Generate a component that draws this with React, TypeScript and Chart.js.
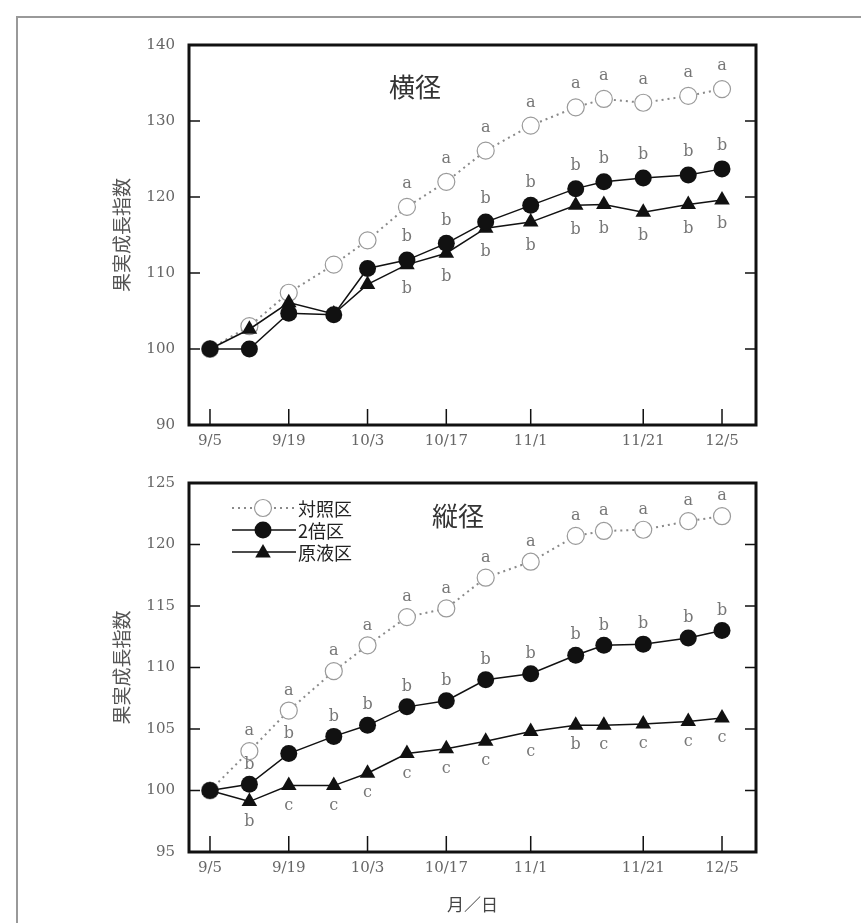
import React, { useEffect, useRef } from 'react';
import { Chart, registerables } from 'chart.js';

Chart.register(...registerables);

// ---- data ----
const sampleDates = ['9/5', '9/12', '9/19', '9/27', '10/3', '10/10', '10/17', '10/24', '11/1', '11/9', '11/14', '11/21', '11/29', '12/5'];
const tickDates = ['9/5', '9/19', '10/3', '10/17', '11/1', '11/21', '12/5'];
const seriesNames = ['対照区', '2倍区', '原液区'];
const yTitle = '果実成長指数';
const xTitle = '月／日';
const topPanelTitle = '横径';
const bottomPanelTitle = '縦径';

// 横径 (transverse diameter)
const widthControl = [100, 103.0, 107.4, 111.1, 114.3, 118.7, 122.0, 126.1, 129.4, 131.8, 132.9, 132.4, 133.3, 134.2];
const widthDouble = [100, 100.0, 104.7, 104.5, 110.6, 111.7, 113.9, 116.7, 118.9, 121.1, 122.0, 122.5, 122.9, 123.7];
const widthStock = [100, 102.6, 106.1, 104.6, 108.5, 111.1, 112.6, 115.9, 116.7, 118.9, 119.0, 118.0, 119.0, 119.6];
const widthControlMarks = ['', '', '', '', '', 'a', 'a', 'a', 'a', 'a', 'a', 'a', 'a', 'a'];
const widthDoubleMarks = ['', '', '', '', '', 'b', 'b', 'b', 'b', 'b', 'b', 'b', 'b', 'b'];
const widthStockMarks = ['', '', '', '', '', 'b', 'b', 'b', 'b', 'b', 'b', 'b', 'b', 'b'];

// 縦径 (longitudinal diameter)
const lengthControl = [100, 103.2, 106.5, 109.7, 111.8, 114.1, 114.8, 117.3, 118.6, 120.7, 121.1, 121.2, 121.9, 122.3];
const lengthDouble = [100, 100.5, 103.0, 104.4, 105.3, 106.8, 107.3, 109.0, 109.5, 111.0, 111.8, 111.9, 112.4, 113.0];
const lengthStock = [100, 99.1, 100.4, 100.4, 101.4, 103.0, 103.4, 104.0, 104.8, 105.3, 105.3, 105.4, 105.6, 105.9];
const lengthControlMarks = ['', 'a', 'a', 'a', 'a', 'a', 'a', 'a', 'a', 'a', 'a', 'a', 'a', 'a'];
const lengthDoubleMarks = ['', 'b', 'b', 'b', 'b', 'b', 'b', 'b', 'b', 'b', 'b', 'b', 'b', 'b'];
const lengthStockMarks = ['', 'b', 'c', 'c', 'c', 'c', 'c', 'c', 'c', 'b', 'c', 'c', 'c', 'c'];

const dayOf = (s: string) => {
  const [m, d] = s.split('/').map(Number);
  return Math.round((Date.UTC(2000, m - 1, d) - Date.UTC(2000, 8, 5)) / 864e5);
};

const SERIF = '"DejaVu Serif", "Liberation Serif", serif';
const CJK = '"Noto Sans CJK JP", "Noto Sans CJK SC", sans-serif';

type Spec = {
  control: number[]; double: number[]; stock: number[];
  controlMarks: string[]; doubleMarks: string[]; stockMarks: string[];
  yMin: number; yMax: number; yStep: number;
  padTop: number; xHeight: number; showXTitle: boolean;
  panelTitle: string; panelTitlePos: [number, number];
  legend: boolean; markDy: [number, number, number];
};

function triangle(ctx: CanvasRenderingContext2D, x: number, y: number, r: number) {
  let rad = 0;
  ctx.beginPath();
  for (let k = 0; k < 3; k++) {
    const px = x + Math.sin(rad) * r;
    const py = y - Math.cos(rad) * r;
    if (k === 0) ctx.moveTo(px, py); else ctx.lineTo(px, py);
    rad += (2 * Math.PI) / 3;
  }
  ctx.closePath();
  ctx.fill();
}

function makeChart(canvas: HTMLCanvasElement, spec: Spec) {
  const xs = sampleDates.map(dayOf);
  const tickDays = tickDates.map(dayOf);
  const pts = (vals: number[]) => xs.map((x, i) => ({ x, y: vals[i] }));

  const decor = {
    id: 'decor',
    afterDatasetsDraw(chart: any) {
      const { ctx, scales: { x, y } } = chart;
      ctx.save();
      ctx.font = `16px ${SERIF}`;
      ctx.fillStyle = '#777';
      ctx.textAlign = 'center';
      ctx.textBaseline = 'middle';
      const groups: [number[], string[], number][] = [
        [spec.control, spec.controlMarks, spec.markDy[0]],
        [spec.double, spec.doubleMarks, spec.markDy[1]],
        [spec.stock, spec.stockMarks, spec.markDy[2]],
      ];
      groups.forEach(([vals, marks, dy]) => {
        marks.forEach((m, i) => {
          if (!m) return;
          ctx.fillText(m, x.getPixelForValue(xs[i]), y.getPixelForValue(vals[i]) + dy);
        });
      });
      // panel title
      ctx.font = `26px ${CJK}`;
      ctx.fillStyle = '#333';
      ctx.fillText(spec.panelTitle, spec.panelTitlePos[0], spec.panelTitlePos[1]);
      // legend
      if (spec.legend) {
        const rows = [48, 70, 92];
        const x0 = 232, x1 = 296, xm = 263;
        ctx.font = `18px ${CJK}`;
        ctx.textAlign = 'left';
        rows.forEach((ry, k) => {
          ctx.save();
          ctx.beginPath();
          if (k === 0) {
            ctx.strokeStyle = '#8a8a8a';
            ctx.lineWidth = 2;
            ctx.setLineDash([2, 4]);
          } else {
            ctx.strokeStyle = '#111';
            ctx.lineWidth = 1.5;
          }
          ctx.moveTo(x0, ry);
          ctx.lineTo(x1, ry);
          ctx.stroke();
          ctx.restore();
          if (k === 0) {
            ctx.beginPath();
            ctx.arc(xm, ry, 8.5, 0, Math.PI * 2);
            ctx.fillStyle = '#fff';
            ctx.fill();
            ctx.strokeStyle = '#9a9a9a';
            ctx.lineWidth = 1.2;
            ctx.stroke();
          } else if (k === 1) {
            ctx.beginPath();
            ctx.arc(xm, ry, 8.5, 0, Math.PI * 2);
            ctx.fillStyle = '#111';
            ctx.fill();
          } else {
            ctx.fillStyle = '#111';
            triangle(ctx, xm, ry + 1, 9);
          }
          ctx.fillStyle = '#222';
          ctx.fillText(seriesNames[k], x1 + 2, ry + 1);
        });
      }
      ctx.restore();
    },
    afterDraw(chart: any) {
      const { ctx, chartArea: a, scales: { x, y } } = chart;
      ctx.save();
      ctx.strokeStyle = '#111';
      ctx.lineWidth = 1.5;
      ctx.beginPath();
      tickDays.forEach((d) => {
        const px = x.getPixelForValue(d);
        ctx.moveTo(px, a.bottom);
        ctx.lineTo(px, a.bottom - 16);
      });
      for (let v = spec.yMin + spec.yStep; v < spec.yMax; v += spec.yStep) {
        const py = y.getPixelForValue(v);
        ctx.moveTo(a.left, py);
        ctx.lineTo(a.left + 11, py);
        ctx.moveTo(a.right, py);
        ctx.lineTo(a.right - 11, py);
      }
      ctx.stroke();
      ctx.lineWidth = 3;
      ctx.strokeRect(a.left, a.top, a.right - a.left, a.bottom - a.top);
      ctx.restore();
    },
  };

  return new Chart(canvas, {
    type: 'line',
    data: {
      datasets: [
        {
          label: seriesNames[1], data: pts(spec.double), order: 0,
          borderColor: '#111', backgroundColor: '#111', borderWidth: 1.5,
          pointStyle: 'circle', pointRadius: 8.5, pointBorderWidth: 0,
          pointBackgroundColor: '#111', tension: 0,
        },
        {
          label: seriesNames[2], data: pts(spec.stock), order: 1,
          borderColor: '#111', backgroundColor: '#111', borderWidth: 1.5,
          pointStyle: 'triangle', pointRadius: 9, pointBorderWidth: 0,
          pointBackgroundColor: '#111', tension: 0,
        },
        {
          label: seriesNames[0], data: pts(spec.control), order: 2,
          borderColor: '#8a8a8a', borderWidth: 2, borderDash: [2, 4],
          pointStyle: 'circle', pointRadius: 8.5, pointBorderWidth: 1.2,
          pointBorderColor: '#9a9a9a', pointBackgroundColor: '#fff', tension: 0,
        },
      ] as any,
    },
    options: {
      animation: false,
      responsive: false,
      maintainAspectRatio: false,
      events: [],
      layout: { padding: { left: 110, right: 105, top: spec.padTop, bottom: 0 } },
      plugins: { legend: { display: false }, tooltip: { enabled: false } },
      scales: {
        x: {
          type: 'linear',
          min: -3.73,
          max: 97.04,
          afterBuildTicks: (s: any) => { s.ticks = tickDays.map((v) => ({ value: v })); },
          afterFit: (s: any) => { s.height = spec.xHeight; },
          grid: { display: false, drawTicks: false },
          border: { display: false },
          ticks: {
            autoSkip: false, maxRotation: 0, minRotation: 0, padding: 7,
            color: '#666', font: { family: SERIF, size: 15 },
            callback: (v: any) => { const i = tickDays.indexOf(Number(v)); return i >= 0 ? tickDates[i] : ''; },
          },
          title: {
            display: spec.showXTitle, text: xTitle, color: '#444',
            font: { family: CJK, size: 17 }, padding: { top: 0, bottom: 8 },
          },
        },
        y: {
          min: spec.yMin,
          max: spec.yMax,
          afterFit: (s: any) => { s.width = 79; },
          grid: { display: false, drawTicks: false },
          border: { display: false },
          ticks: { stepSize: spec.yStep, padding: 14, color: '#666', font: { family: SERIF, size: 15 } },
          title: {
            display: true, text: yTitle, color: '#555',
            font: { family: CJK, size: 19 }, padding: 0,
          },
        },
      },
    } as any,
    plugins: [decor],
  });
}

const topSpec: Spec = {
  control: widthControl, double: widthDouble, stock: widthStock,
  controlMarks: widthControlMarks, doubleMarks: widthDoubleMarks, stockMarks: widthStockMarks,
  yMin: 90, yMax: 140, yStep: 10,
  padTop: 25, xHeight: 35, showXTitle: false,
  panelTitle: topPanelTitle, panelTitlePos: [415, 67],
  legend: false, markDy: [-23, -23, 24],
};

const bottomSpec: Spec = {
  control: lengthControl, double: lengthDouble, stock: lengthStock,
  controlMarks: lengthControlMarks, doubleMarks: lengthDoubleMarks, stockMarks: lengthStockMarks,
  yMin: 95, yMax: 125, yStep: 5,
  padTop: 10, xHeight: 71, showXTitle: true,
  panelTitle: bottomPanelTitle, panelTitlePos: [458, 56],
  legend: true, markDy: [-20, -20, 20],
};

function Panel({ spec, top, height }: { spec: Spec; top: number; height: number }) {
  const ref = useRef<HTMLCanvasElement | null>(null);
  useEffect(() => {
    if (!ref.current) return;
    const c = makeChart(ref.current, spec);
    return () => c.destroy();
  }, [spec]);
  return (
    <canvas
      ref={ref}
      width={861}
      height={height}
      style={{ position: 'absolute', left: 0, top, width: 861, height, display: 'block' }}
    />
  );
}

export default function App() {
  return (
    <div style={{ position: 'absolute', left: 0, top: 0, width: 861, height: 923, background: '#fff', overflow: 'hidden' }}>
      <div
        style={{
          position: 'absolute', left: 16, top: 16, width: 861, height: 923,
          borderLeft: '2px solid #999', borderTop: '2px solid #999',
        }}
      />
      <Panel spec={topSpec} top={20} height={440} />
      <Panel spec={bottomSpec} top={460} height={463} />
    </div>
  );
}
